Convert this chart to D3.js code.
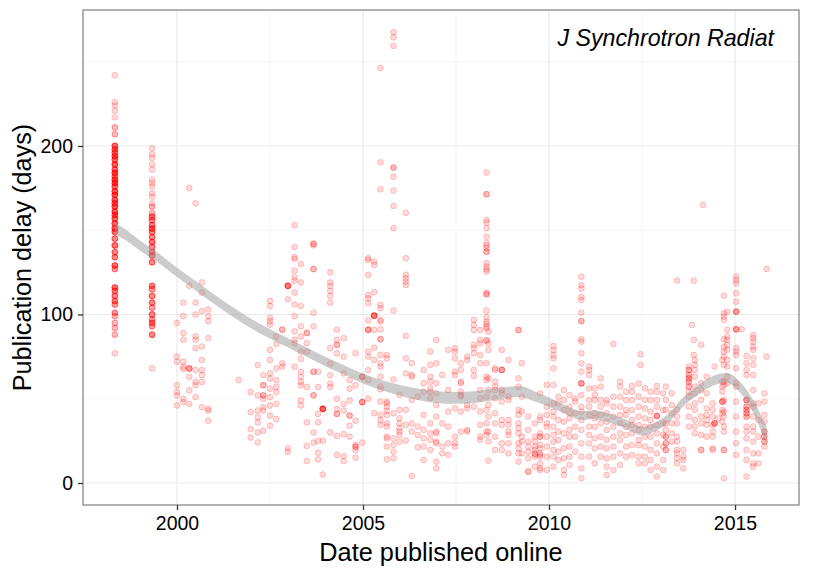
<!DOCTYPE html>
<html>
<head>
<meta charset="utf-8">
<script src="https://cdn.jsdelivr.net/npm/d3@7"></script>
<style>
  body { margin: 0; background: #fff; }
  text { font-family: "Liberation Sans", Arial, Helvetica, sans-serif; }
</style>
</head>
<body>
<svg id="chart"></svg>
<script>
const width = 825;
const height = 570;

// 1998 and 1999 issues: delay (days) and number of papers with that delay
const delays1998 = [242, 226, 224, 221, 217, 211, 207, 200, 198, 196, 194, 192, 189, 186, 184, 182, 180, 178, 176, 173, 171, 168, 166, 164, 161, 159, 157, 154, 151, 149, 145, 141, 137, 134, 129, 127, 116, 114, 111, 108, 106, 101, 99, 95, 92, 88, 77];
const counts1998 = [1, 1, 1, 1, 1, 2, 2, 5, 5, 4, 6, 5, 6, 5, 6, 4, 6, 6, 5, 6, 6, 6, 5, 6, 6, 5, 5, 6, 6, 5, 4, 5, 4, 4, 5, 3, 5, 4, 4, 4, 3, 3, 2, 2, 2, 2, 1];
const delays1999 = [198.6, 195, 193, 189, 186, 180, 178, 176, 172, 170, 166, 164, 160, 158, 156, 153, 151, 149, 146, 143, 140, 137, 135, 131, 117, 115, 111, 107, 104, 100, 97, 95, 93, 88, 68];
const counts1999 = [1, 1, 1, 1, 1, 1, 1, 1, 1, 1, 1, 2, 2, 4, 4, 4, 5, 4, 4, 5, 4, 4, 4, 4, 4, 3, 4, 4, 3, 4, 3, 4, 3, 4, 1];

// [date published online, [delays]]
const cols2000 = [
  [2000.0, [95, 75, 72, 58, 54, 52, 46]],
  [2000.17, [107, 99, 89, 85, 72, 69, 67.6, 50, 48]],
  [2000.33, [175, 117, 68, 68, 68, 63, 55, 47]],
  [2000.5, [166, 107, 100, 87, 85, 80, 67, 60, 58, 51]],
  [2000.67, [119, 113, 102, 81, 73, 67, 64, 60, 45]],
  [2000.84, [103, 99, 96, 86, 44, 43, 37]],
  [2001.66, [61]],
  [2001.98, [54, 42, 32, 27]],
  [2002.17, [70, 52, 43, 39, 36, 30, 24]],
  [2002.32, [64, 58, 58, 52, 52, 50, 45, 43, 31]],
  [2002.5, [108, 105, 98, 96, 94, 79, 73, 65, 62, 56, 51, 46, 40, 34]],
  [2002.67, [87, 82.5, 68, 61, 57, 54, 47, 38]],
  [2002.83, [91, 91, 71, 69]],
  [2002.98, [117, 117, 117, 117, 117, 109, 20.6, 18.6]],
  [2003.16, [153, 140, 134, 133, 126, 122, 120, 113, 106, 99, 90, 85, 83, 69]],
  [2003.33, [130, 119, 105, 93, 87, 78, 73.6, 66, 63, 60, 58, 49, 46]],
  [2003.49, [89, 89, 83, 78, 57, 36, 22, 13]],
  [2003.67, [142, 142, 141, 127, 127, 101, 93, 66, 66, 52, 52, 30, 24]],
  [2003.79, [66, 57, 41, 36, 25, 18, 14]],
  [2003.92, [44, 44, 44, 44, 44, 44, 25, 5]],
  [2004.12, [125, 119, 117, 114, 111, 107, 80, 71, 64, 59, 57, 30]],
  [2004.3, [91, 85, 82, 82, 77, 50, 44, 41, 41, 28, 16.6]],
  [2004.48, [86, 75, 65, 47, 43, 29, 16, 13]],
  [2004.64, [61, 56, 49, 40, 40, 34, 27.5]],
  [2004.8, [77, 58, 37, 22.6, 21.5, 21.5, 19.6, 15]],
  [2004.98, [63, 63, 63, 48, 48, 48, 24]]
];

const cols2005 = [
  [2005.14, [133.4, 132.4, 123.5, 111.6, 109.6, 106.7, 96.4, 91.2, 90.8, 90.8, 78, 75, 67, 61, 50]],
  [2005.3, [131.4, 129.4, 113.2, 99.3, 99.3, 99.3, 99.3, 99.3, 90.8, 80.3, 73, 41.4]],
  [2005.47, [246.3, 190.3, 174.3, 105.7, 103.7, 96.8, 95.8, 91.2, 85.3, 85.3, 76, 71, 69, 63.1, 57.2, 55.6, 48.3, 40.4, 37.4, 34.5]],
  [2005.64, [76, 74, 48.3, 47.3, 45.3, 42.8, 40.4, 35.4, 33.5, 27.5, 26.5, 21.6, 14.1]],
  [2005.82, [267.5, 264.5, 259.4, 187.2, 187.2, 181.8, 173.5, 164.4, 151.2, 102.3, 61.5, 41.4, 26.5, 22.6, 18.6, 14.7]],
  [2005.98, [52.3, 43.4, 38.4, 35.4, 32.5, 30.5, 28.5, 24.6]],
  [2006.15, [160.3, 133.4, 123.5, 121.5, 119.5, 117.5, 87.3, 74, 65.1, 43.4, 34.5, 25.2]],
  [2006.31, [71.1, 64.1, 63.1, 49.3, 35.4, 30.5, 4.2]],
  [2006.47, [51.3, 33.5, 28.5, 21.2]],
  [2006.63, [67.1, 59.2, 54.2, 40.4, 31.5, 26.5, 21.6, 13.7]],
  [2006.81, [78, 70.1, 63.1, 60.2, 56.2, 54.2, 50.3, 35.4, 29.5, 25.6, 19.6]],
  [2006.97, [84.9, 71.1, 59.2, 53.2, 46.3, 39.4, 30.5, 29.5, 24.6, 23.6, 12.7, 8.7]],
  [2007.13, [64.1, 35.4, 21.6, 17.6]],
  [2007.29, [79, 55.2, 42.4, 33.5, 23.6, 16.7]],
  [2007.47, [80, 78, 74, 66.1, 64.1, 44.3, 27.5, 23.6, 21.6]],
  [2007.63, [71.1, 67.1, 60.2, 59.2, 54.2, 52.3, 51.3, 42.4, 30.5]],
  [2007.8, [75, 73, 46.3, 44.3, 31.5, 30.5]],
  [2007.98, [96.8, 93.8, 90.8, 82, 80, 77, 67.1, 63.5, 45.3]],
  [2008.15, [90.8, 84.9, 82.9, 76, 71.1, 55.2, 50.3, 42.4, 34.5, 27.5, 25.6]],
  [2008.32, [184.2, 171.4, 171.4, 156.1, 154.5, 151.2, 146.2, 142.3, 140.9, 139.3, 137.3, 137.3, 130.4, 128.4, 126.8, 125.5, 113, 112, 112, 102.3, 98.4, 95.8, 94.4, 92.8, 91.8, 84.9, 84.3, 71.1, 63.1, 61.2, 51.3, 43.4, 35.4, 30.5, 28.5]],
  [2008.37, [89.8, 82.9, 79, 62.1, 55.2, 46.3, 39.4, 30.5, 24.6, 13.3]],
  [2008.55, [68.1, 67.1, 60.2, 57.2, 55.2, 50.3, 41.4, 35.4, 27.5, 19.6]],
  [2008.73, [79, 67.1, 67.1, 67.1, 55.2, 53.2, 48.3, 37.4, 34.5, 23.6, 19.6]],
  [2008.91, [73, 51.3, 49.3, 37.4, 34.5, 30.5, 28.5, 23.6, 17.6]],
  [2009.18, [90.8, 90.8, 62.1, 57.2, 43.4, 40.4, 35.4, 32.5, 29.5, 23.6, 20.6, 17.6, 12.7]],
  [2009.27, [71.1, 51.3, 42.4, 27.5, 24.6, 17.6]],
  [2009.44, [39.4, 31.5, 24.6, 21.6, 18.6, 14.7, 6.8, 6.8]],
  [2009.62, [35.4, 27.5, 24.6, 21.6, 19.6, 17.3, 17.3, 15.7, 9.7]],
  [2009.76, [53.2, 39.4, 37.4, 29.5, 27.5, 27.5, 22.6, 20.6, 17.6, 16.7, 15.6, 11.7, 8.7, 7.7]]
];

const cols2010 = [
  [2009.94, [58.2, 45.3, 40.4, 35.4, 33.4, 27.5, 21.6, 15.6, 7.7]],
  [2010.12, [81.3, 78.9, 76, 74, 68, 58.2, 47.3, 42.3, 39.4, 33.4, 28.5, 24.5, 19.6, 15.6, 9.7]],
  [2010.25, [51.2, 47.3, 37.4, 30.5, 25.5, 18.6, 13.7]],
  [2010.4, [55.2, 49.3, 43.3, 36.4, 29.5, 20.6, 14.6, 7.7, 4.8]],
  [2010.55, [52.2, 45.3, 41.4, 38.4, 31.5, 27.5, 21.6, 15.6, 10.7]],
  [2010.7, [50.2, 48.3, 41.4, 33.4, 27.5, 18.6]],
  [2010.87, [122.4, 117.4, 115.4, 110.4, 108.6, 101.1, 96.1, 96.1, 85.3, 83.9, 77, 71, 66.1, 59.1, 59.1, 59.1, 52.2, 45.3, 42.3, 37.4, 31.5, 23.5, 15.6, 8.7, 2.8]],
  [2011.08, [69, 67, 64.1, 56.2, 49.3, 45.3, 40.4, 33.4, 28.5, 23.5, 15.6]],
  [2011.23, [56.2, 52.2, 49.3, 41.4, 38.4, 33.4, 26.5, 20.6, 11.7]],
  [2011.39, [62.1, 57.2, 49.3, 45.3, 40.4, 35.4, 27.5, 21.6, 15.6]],
  [2011.55, [49.3, 47.3, 41.4, 36.4, 31.5, 25.5, 20.6, 14.6, 9.7, 4.8]],
  [2011.73, [82.5, 51.2, 45.3, 39.4, 33.4, 27.5, 21.6, 15.6, 7.7]],
  [2011.91, [60.2, 57.2, 51.2, 45.3, 40.4, 35.4, 29.5, 25.5, 17.6, 10.7]],
  [2012.07, [54.2, 49.3, 43.3, 40.4, 33.4, 28.5, 21.6, 15.6]],
  [2012.23, [57.6, 54.2, 49.3, 43.3, 37.4, 34.4, 29.5, 22.5, 16.6]],
  [2012.41, [59.1, 51.2, 45.3, 39.4, 34.4, 31.5, 25.5, 22.5, 15.6, 11.7]],
  [2012.46, [76.4, 70]],
  [2012.58, [56.2, 49.3, 44.3, 38.4, 33.4, 27.5, 21.6, 15.6, 11.7]],
  [2012.73, [54.2, 49.3, 42.3, 37.4, 33.4, 27.5, 19.6, 13.7, 7.7]],
  [2012.9, [57.6, 54.2, 49.3, 45.3, 39.8, 39.8, 39.8, 34.4, 29.5, 23.5, 17.6, 9.7, 3.8]],
  [2013.07, [53.2, 43.3, 35.4, 28.5, 21.6, 13.7, 7.7]]
];

const cols2013 = [
  [2013.14, [57.2, 49.3, 43.4, 35.4, 31.5, 27.5, 27.5, 23.6, 23.5, 19.6, 19.6]],
  [2013.3, [53.2, 46.3, 41.4, 35.4, 29.5, 24.6]],
  [2013.44, [120.1, 43.4, 39.4, 35.4, 27.5, 24.6, 19.6, 17.6, 14.7, 11.7]],
  [2013.61, [19.6, 15.7, 13.7, 8.7]],
  [2013.76, [69.1, 67.1, 67.1, 64.1, 64.1, 62.1, 62.1, 60.2, 60.2, 57.2, 57.2, 54.2, 51.3, 45.3, 39.4, 33.5]],
  [2013.84, [93.8]],
  [2013.89, [120.1, 84.9, 76]],
  [2013.92, [73, 70.1, 67.1, 63.1, 57.2, 53.2, 47.3, 43.4, 37.4, 33.5, 29.5]],
  [2014.09, [82, 59.2, 55.2, 49.3, 39.4, 35.4, 28.5, 19.6, 19.6]],
  [2014.14, [165]],
  [2014.24, [63.1, 53.2, 44.3, 40.4, 37.4, 34.5, 27.5]],
  [2014.4, [47.3, 43.4, 39.4, 34.5, 30.5, 27.5, 20.6, 19.6]],
  [2014.45, [69.1, 35.4, 35.4, 35.4]],
  [2014.55, [38.4]],
  [2014.66, [73, 60.2, 57.2, 54.2, 48.3, 48.3, 48.3, 43.4, 41.4, 36.4]],
  [2014.7, [111.2, 100.7, 98.7, 96.8, 85.3, 80.9, 78, 75, 70.1, 60.2, 58.2, 49.3, 42.4, 39.4, 33.5, 30.5, 19.6, 19.6, 2.8]],
  [2014.79, [101.7, 90.8, 86.9, 84.9, 81.9, 79, 73, 69.1, 63.1, 59.2]],
  [2015.03, [122.5, 120.5, 118.5, 112.6, 107.6, 101.7, 101.7, 101.7, 91.2, 91.2, 91.2, 80, 78, 76, 68.1, 59.2, 57.2, 48.3, 39.4, 30.5, 23.6, 16.7]],
  [2015.18, [91.2]],
  [2015.31, [75.4, 71.1, 67.1, 64.1, 49.3, 49.3, 49.3, 45.3, 45.3, 43.4, 43.4, 41.4, 41.4, 39.4, 39.4, 33.5, 30.5, 26.5, 19.6, 13.7, 3.8]],
  [2015.49, [87.9, 85.9, 83.9, 80.9, 79, 74, 70.1, 64.1, 55.2, 47.3, 45.3, 39.4, 33.5, 30.5, 24.6, 17.6, 11.7, 9.7]],
  [2015.63, [47.3, 37.4, 27.5, 17.6, 11.7]],
  [2015.79, [53.2, 48.3, 40.4, 36.4, 30.5, 30.5, 27.5, 27.5, 24.6, 24.6, 21.6]],
  [2015.85, [127, 75]]
];

// loess fit and its standard error band
const smoothDate = [1998.33, 1998.6, 1999.0, 1999.5, 2000.0, 2000.5, 2001.0, 2001.5, 2002.0, 2002.5, 2003.0, 2003.5, 2004.0, 2004.5, 2005.0, 2005.5, 2006.0, 2006.5, 2007.0, 2007.5, 2008.0, 2008.5, 2009.0, 2009.3, 2009.6, 2010.0, 2010.5, 2010.85, 2011.2, 2011.56, 2012.0, 2012.5, 2012.87, 2013.25, 2013.6, 2014.0, 2014.35, 2014.8, 2015.13, 2015.5, 2015.75, 2015.85];
const smoothFit = [151, 147.5, 141, 133.5, 125, 117, 109, 101.5, 94.5, 88.5, 83, 77.5, 72, 67, 62, 58, 55, 52.5, 51, 50.5, 51, 52.5, 54, 54, 51.5, 48, 43, 40, 40.5, 39, 35.6, 30.8, 33.4, 39.3, 48, 55, 60, 62.3, 57, 45, 33, 28];
const smoothSe = [3.5, 3.2, 3, 2.8, 2.8, 2.8, 2.8, 2.8, 2.8, 2.8, 2.8, 2.8, 2.8, 2.8, 3, 3, 3.2, 3.4, 3.5, 3.5, 3.5, 3.4, 3.3, 3.2, 3, 2.8, 2.6, 2.6, 2.6, 2.6, 2.6, 2.6, 2.6, 2.7, 2.8, 2.8, 2.9, 3, 3.2, 3.8, 4.8, 5.5];

const xTicks = [2000, 2005, 2010, 2015];
const xMinor = [2002.5, 2007.5, 2012.5];
const yTicks = [0, 100, 200];
const yMinor = [50, 150, 250];

const margin = {top: 10, right: 26, bottom: 65, left: 83};

let svg = d3.select("#chart")
  .attr("width", width)
  .attr("height", height);

svg.append("rect")
  .attr("width", width)
  .attr("height", height)
  .attr("fill", "#fff");

const x = d3.scaleLinear()
  .domain([1997.473, 2016.72])
  .range([margin.left, width - margin.right]);
const y = d3.scaleLinear()
  .domain([-13.06, 280.7])
  .range([height - margin.bottom, margin.top]);

// build one flat list of points
let points = [];
delays1998.forEach((d, i) => {
  for (let k = 0; k < counts1998[i]; k++) points.push({date: 1998.33, delay: d});
});
delays1999.forEach((d, i) => {
  for (let k = 0; k < counts1999[i]; k++) points.push({date: 1999.33, delay: d});
});
[cols2000, cols2005, cols2010, cols2013].forEach(cols => {
  cols.forEach(c => c[1].forEach(d => points.push({date: c[0], delay: d})));
});

const pLeft = margin.left, pRight = width - margin.right;
const pTop = margin.top, pBottom = height - margin.bottom;

// grid
let grid = svg.append("g");
grid.selectAll(".xminor").data(xMinor).enter().append("line")
  .attr("x1", d => x(d)).attr("x2", d => x(d))
  .attr("y1", pTop).attr("y2", pBottom)
  .attr("stroke", "#f7f7f7").attr("stroke-width", 1);
grid.selectAll(".yminor").data(yMinor).enter().append("line")
  .attr("x1", pLeft).attr("x2", pRight)
  .attr("y1", d => y(d)).attr("y2", d => y(d))
  .attr("stroke", "#f7f7f7").attr("stroke-width", 1);
grid.selectAll(".xmajor").data(xTicks).enter().append("line")
  .attr("x1", d => x(d)).attr("x2", d => x(d))
  .attr("y1", pTop).attr("y2", pBottom)
  .attr("stroke", "#ebebeb").attr("stroke-width", 1.2);
grid.selectAll(".ymajor").data(yTicks).enter().append("line")
  .attr("x1", pLeft).attr("x2", pRight)
  .attr("y1", d => y(d)).attr("y2", d => y(d))
  .attr("stroke", "#ebebeb").attr("stroke-width", 1.2);

// points
svg.append("g")
  .selectAll("circle")
  .data(points)
  .enter().append("circle")
  .attr("cx", d => x(d.date))
  .attr("cy", d => y(d.delay))
  .attr("r", 2.9)
  .attr("fill", "red")
  .attr("fill-opacity", 0.14)
  .attr("stroke", "red")
  .attr("stroke-opacity", 0.2)
  .attr("stroke-width", 1);

// smoothing band
const band = d3.area()
  .x((d, i) => x(smoothDate[i]))
  .y0((d, i) => y(smoothFit[i] - smoothSe[i]))
  .y1((d, i) => y(smoothFit[i] + smoothSe[i]))
  .curve(d3.curveCatmullRom);
svg.append("path")
  .attr("d", band(smoothDate))
  .attr("fill", "#999999")
  .attr("fill-opacity", 0.5);

// panel border
svg.append("rect")
  .attr("x", pLeft).attr("y", pTop)
  .attr("width", pRight - pLeft).attr("height", pBottom - pTop)
  .attr("fill", "none")
  .attr("stroke", "#7f7f7f")
  .attr("stroke-width", 1.2);

// axes
const xAxis = svg.append("g")
  .attr("transform", `translate(0,${pBottom})`)
  .call(d3.axisBottom(x).tickValues(xTicks).tickFormat(d3.format("d")).tickSize(5).tickPadding(6));
const yAxis = svg.append("g")
  .attr("transform", `translate(${pLeft},0)`)
  .call(d3.axisLeft(y).tickValues(yTicks).tickSize(5).tickPadding(5));
[xAxis, yAxis].forEach(a => {
  a.select(".domain").remove();
  a.selectAll(".tick line").attr("stroke", "#333").attr("stroke-width", 1.3);
  a.selectAll(".tick text")
    .attr("fill", "#000")
    .style("font-size", "19.5px")
    .style("font-family", "\"Liberation Sans\", Arial, sans-serif");
});

svg.append("text")
  .attr("x", (pLeft + pRight) / 2)
  .attr("y", 561)
  .attr("text-anchor", "middle")
  .style("font-size", "25.3px")
  .text("Date published online");

svg.append("text")
  .attr("transform", `translate(31,${(pTop + pBottom) / 2}) rotate(-90)`)
  .attr("text-anchor", "middle")
  .style("font-size", "25.2px")
  .text("Publication delay (days)");

svg.append("text")
  .attr("x", 774)
  .attr("y", 46)
  .attr("text-anchor", "end")
  .style("font-size", "23.2px")
  .style("font-style", "italic")
  .text("J Synchrotron Radiat");
</script>
</body>
</html>
